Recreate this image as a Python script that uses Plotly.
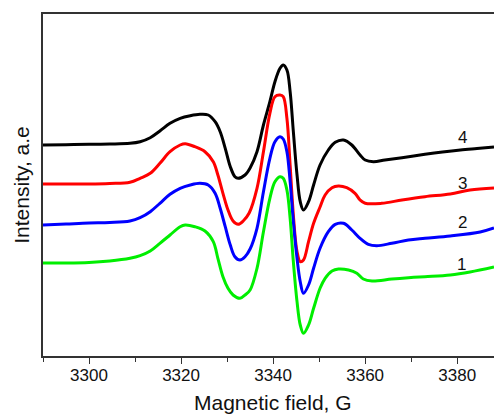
import plotly.graph_objects as go

# Series 4 (black)
field_4 = [3290.0, 3295.0, 3300.0, 3304.5, 3308.9, 3311.1, 3313.3, 3315.4, 3317.6, 3319.8, 3322.0, 3324.1,
           3325.9, 3327.4, 3328.5, 3329.6, 3330.7, 3331.7, 3332.4, 3333.9, 3335.0, 3336.5,
           3337.9, 3339.3, 3340.4, 3341.5, 3342.2, 3343.0, 3343.7, 3344.4, 3345.2, 3345.9,
           3346.6, 3347.7, 3348.8, 3350.2, 3352.0, 3353.5, 3355.3, 3357.1, 3358.9, 3360.0,
           3361.8, 3364.3, 3368.0, 3373.0, 3376.8, 3380.7, 3384.3, 3388.0]
inten_4 = [211, 211.3, 211.7, 212, 212.7, 214.3, 218.3, 225, 232.7, 237.7, 240.3, 241.7,
           241, 234.3, 224.3, 207.7, 189.3, 179.3, 177.7, 181, 188, 204.3,
           231, 254.3, 274.3, 287.7, 291, 286, 264.3, 224.3, 181, 154.3,
           146, 154.3, 171, 191, 206, 213.7, 216, 211, 201, 196,
           194.3, 196, 198.3, 201.7, 204, 206, 207.5, 209]

# Series 3 (red)
field_3 = [3290.0, 3295.0, 3300.0, 3304.5, 3308.9, 3311.1, 3313.3, 3315.4, 3317.6, 3319.8, 3320.9, 3323.0,
           3325.2, 3327.0, 3328.0, 3329.1, 3330.2, 3331.3, 3332.4, 3333.5, 3334.8, 3336.5,
           3337.9, 3339.3, 3340.4, 3341.5, 3342.2, 3343.0, 3343.7, 3344.4, 3345.2, 3345.9,
           3346.6, 3347.7, 3348.8, 3350.2, 3351.3, 3352.8, 3354.2, 3356.0, 3357.8, 3358.9,
           3360.0, 3363.6, 3368.0, 3373.0, 3378.5, 3382.8, 3388.0]
inten_3 = [172, 172, 172, 172.5, 173.7, 177.7, 182.7, 192.7, 204.3, 211, 212.3, 209.3,
           204.3, 194.3, 181, 162.7, 146, 135, 131.7, 135, 143, 167.7,
           204.3, 242.7, 259.3, 261, 259.3, 237.7, 191, 141, 104.3, 94.3,
           96, 114.3, 132.7, 149, 161, 168.3, 170, 168.3, 162.7, 156,
           152.7, 152.7, 156, 159.3, 162, 166, 168]

# Series 2 (blue)
field_2 = [3290.0, 3295.0, 3300.0, 3304.5, 3308.9, 3311.1, 3313.3, 3315.4, 3317.6, 3319.8, 3322.0, 3324.1,
           3325.9, 3327.4, 3328.5, 3329.6, 3330.7, 3331.7, 3332.8, 3333.9, 3335.0, 3336.5,
           3337.9, 3339.3, 3340.4, 3341.5, 3342.2, 3343.0, 3343.7, 3344.4, 3345.2, 3345.9,
           3346.6, 3347.7, 3348.8, 3350.2, 3352.0, 3353.5, 3355.3, 3357.1, 3358.9, 3360.7,
           3362.5, 3365.8, 3369.4, 3373.0, 3378.5, 3385.0, 3388.0]
inten_2 = [131, 132, 133, 133.5, 135, 138.3, 144.3, 152.7, 161.7, 167.7, 171, 172.7,
           171, 162.7, 147.7, 129.3, 111, 99.3, 96, 99.3, 107, 127.7,
           164.3, 197.7, 214.3, 219.3, 217, 204.3, 174.3, 134.3, 97.7, 74.3,
           62.7, 71, 87.7, 107.7, 124.3, 131.7, 132.7, 126, 117.7, 111.7,
           110.3, 112.7, 116, 117.7, 120, 124, 128]

# Series 1 (green)
field_1 = [3290.0, 3295.0, 3300.0, 3304.5, 3308.9, 3311.1, 3313.3, 3315.4, 3317.6, 3319.8, 3320.9, 3323.0,
           3325.2, 3327.0, 3328.0, 3329.1, 3330.2, 3331.3, 3332.8, 3333.9, 3335.0, 3336.5,
           3337.9, 3339.3, 3340.4, 3341.5, 3342.2, 3343.0, 3343.7, 3344.4, 3345.2, 3345.9,
           3346.6, 3347.7, 3348.8, 3350.2, 3351.3, 3352.8, 3354.2, 3356.4, 3358.2, 3359.6,
           3361.5, 3365.8, 3369.4, 3373.0, 3378.5, 3382.8, 3388.0]
inten_1 = [93, 93, 93.5, 95, 97.7, 100.3, 105, 112.7, 121, 129.3, 131, 129.3,
           125, 114.3, 97.7, 79.3, 67.7, 61, 57.7, 61, 66, 87.7,
           124.3, 157.7, 174.3, 179.3, 177.7, 166, 137.7, 94.3, 54.3, 31,
           22.7, 31, 47.7, 67.7, 77.7, 85, 87, 86, 82.7, 77,
           75, 77, 78.3, 79.3, 81, 84, 89]

series = [
    ("4", field_4, inten_4, "#000000"),
    ("3", field_3, inten_3, "#ff0000"),
    ("2", field_2, inten_2, "#0000ff"),
    ("1", field_1, inten_1, "#00ee00"),
]

label_text = ["4", "3", "2", "1"]
label_field = [3381.2, 3381.1, 3381.2, 3381.0]
label_inten = [219, 173, 134, 92]

x_ticks = [3300, 3320, 3340, 3360, 3380]
x_minor = [3290, 3310, 3330, 3350, 3370]
x_title = "Magnetic field, G"
x_title_center = 3340
y_title = "Intensity, a.e"

fig = go.Figure()
for name, fx, iy, col in series:
    fig.add_trace(go.Scatter(x=fx, y=iy, mode="lines", name=name,
                             line=dict(color=col, width=3, shape="spline", smoothing=1.0,
                                       simplify=False),
                             showlegend=False))

for t, fx, iy in zip(label_text, label_field, label_inten):
    fig.add_annotation(x=fx, y=iy, text=t, showarrow=False,
                       font=dict(family="Liberation Sans, Arial", size=17, color="#111"))

# x-axis title (the original plot is cropped on the right, so its title is centred at 3340)
fig.add_annotation(x=x_title_center, xref="x", y=0, yref="paper", yanchor="bottom",
                   yshift=-59, text=x_title, showarrow=False, borderpad=0,
                   font=dict(family="Liberation Sans, Arial", size=21, color="#111"))

fig.update_layout(
    width=494, height=416,
    margin=dict(l=43, r=0, t=14, b=60),
    paper_bgcolor="white", plot_bgcolor="white",
    font=dict(family="Liberation Sans, Arial", color="#111"),
    xaxis=dict(range=[3290, 3388], tickvals=x_ticks, ticks="outside", ticklen=6,
               tickwidth=1.3, tickcolor="#333", showline=True, linecolor="#333",
               linewidth=1.5, mirror=True, showgrid=False, zeroline=False,
               tickfont=dict(size=17), ticklabelstandoff=-3,
               minor=dict(tickvals=x_minor, ticks="outside",
                          ticklen=4, tickwidth=1.3, tickcolor="#333")),
    yaxis=dict(range=[0, 342], showticklabels=False, ticks="", showline=True,
               linecolor="#333", linewidth=1.5, mirror=False, showgrid=False,
               zeroline=False,
               title=dict(text=y_title, font=dict(size=21), standoff=6)),
)

fig.write_html("out.html")
